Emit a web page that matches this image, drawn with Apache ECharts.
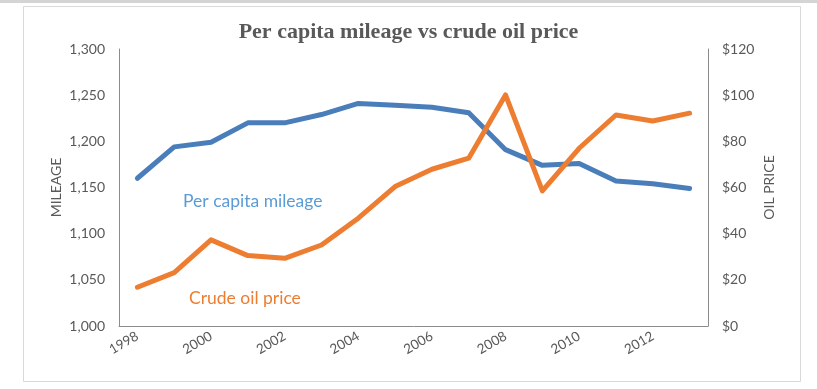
<!DOCTYPE html>
<html>
<head>
<meta charset="utf-8">
<script src="https://cdn.jsdelivr.net/npm/echarts@6/dist/echarts.min.js"></script>
<style>html,body{margin:0;padding:0;background:#fff;}#c{width:817px;height:389px;}</style>
</head>
<body>
<div id="c"></div>
<script>
const years = ['1998','1999','2000','2001','2002','2003','2004','2005','2006','2007','2008','2009','2010','2011','2012','2013'];
const mileage = [1160,1194,1199,1220,1220,1229,1241,1239,1237,1231,1191,1174,1176,1157,1154,1149];
const oilPrice = [16.8,23.1,37.3,30.5,29.3,35.1,46.7,60.4,67.9,72.7,100.1,58.5,77.0,91.4,88.8,92.2];
const leftTicks = [1000,1300,50];
const rightTicks = [0,120,20];

const chart = echarts.init(document.getElementById('c'), null, {renderer:'canvas'});
const axisColor = '#8c8c8c';
const textColor = '#595959';
const font = 'Lato, "Open Sans", sans-serif';
chart.setOption({
  animation:false,
  backgroundColor:'#fff',
  title:{text:'Per capita mileage vs crude oil price', left:'center', top:16,
    textStyle:{fontFamily:'"Liberation Serif", serif', fontWeight:'bold', fontSize:22, color:textColor}},
  grid:{left:119, right:109, top:49, bottom:63},
  xAxis:{type:'category', data:years, boundaryGap:true,
    axisLine:{lineStyle:{color:axisColor, width:1}}, axisTick:{show:false},
    axisLabel:{interval:1, rotate:30, color:textColor, fontFamily:font, fontSize:13.5, margin:9}},
  yAxis:[
    {type:'value', min:leftTicks[0], max:leftTicks[1], interval:leftTicks[2], position:'left',
     name:'MILEAGE', nameLocation:'middle', nameGap:56, nameRotate:90, nameMoveOverlap:false,
     nameTextStyle:{color:textColor, fontFamily:font, fontSize:14},
     axisLine:{show:true, lineStyle:{color:axisColor}}, axisTick:{show:false}, splitLine:{show:false},
     axisLabel:{color:textColor, fontFamily:font, fontSize:14, margin:14,
       formatter:v=>v.toLocaleString('en-US')}},
    {type:'value', min:rightTicks[0], max:rightTicks[1], interval:rightTicks[2], position:'right',
     name:'OIL PRICE', nameLocation:'middle', nameGap:54, nameRotate:90, nameMoveOverlap:false,
     nameTextStyle:{color:textColor, fontFamily:font, fontSize:14},
     axisLine:{show:true, lineStyle:{color:axisColor}}, axisTick:{show:false}, splitLine:{show:false},
     axisLabel:{color:textColor, fontFamily:font, fontSize:14, margin:14, formatter:v=>'$'+v}}
  ],
  series:[
    {name:'Per capita mileage', type:'line', data:mileage, yAxisIndex:0, symbol:'none',
     lineStyle:{color:'#4a7ebb', width:5, cap:'round', join:'round'}},
    {name:'Crude oil price', type:'line', data:oilPrice, yAxisIndex:1, symbol:'none',
     lineStyle:{color:'#ed7d31', width:5, cap:'round', join:'round'}}
  ],
  graphic:[
    {type:'rect', shape:{x:0, y:0, width:817, height:3}, style:{fill:'#d4d4d4'}, z:-1},
    {type:'rect', shape:{x:23.5, y:6.5, width:777, height:375}, style:{fill:null, stroke:'#d9d9d9', lineWidth:1}, z:-1},
    {type:'text', left:183, top:192, style:{text:'Per capita mileage', fill:'#5b9bd5', font:'17.5px Lato, "Open Sans", sans-serif'}},
    {type:'text', left:189, top:289, style:{text:'Crude oil price', fill:'#ed7d31', font:'17.5px Lato, "Open Sans", sans-serif'}}
  ]
});
</script>
</body>
</html>
